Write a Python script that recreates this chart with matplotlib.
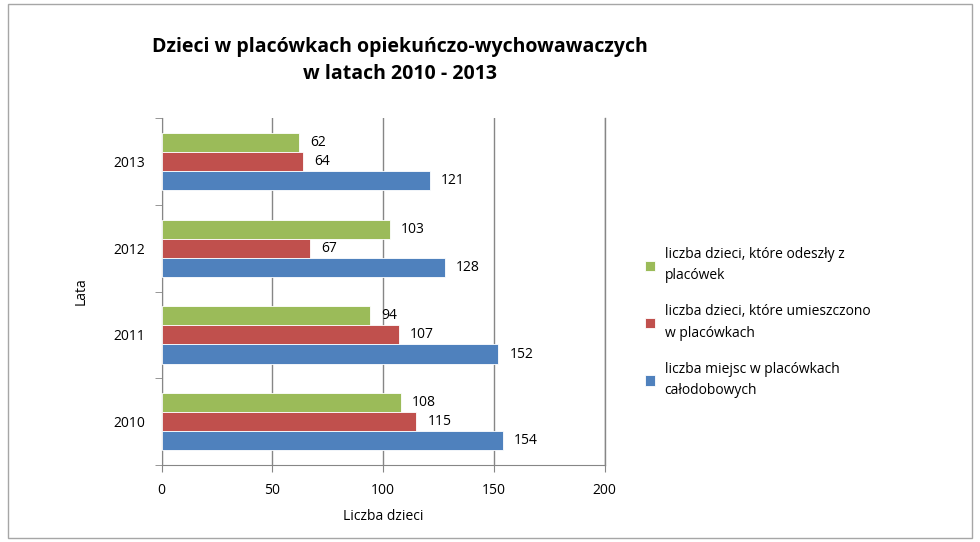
import numpy as np
import matplotlib.pyplot as plt
from matplotlib.patches import Rectangle

plt.rcParams['font.family'] = ['Open Sans', 'DejaVu Sans']

years = ['2010', '2011', '2012', '2013']
odeszly = [108, 94, 103, 62]
umieszczono = [115, 107, 67, 64]
miejsca = [154, 152, 128, 121]
series_names = ['liczba dzieci, które odeszły z\nplacówek',
                'liczba dzieci, które umieszczono\nw placówkach',
                'liczba miejsc w placówkach\ncałodobowych']
colors = ['#9BBB59', '#C0504D', '#4F81BD']

fig = plt.figure(figsize=(9.8, 5.42), dpi=100)
fig.patches.append(Rectangle((0.008, 0.008), 0.984, 0.984, transform=fig.transFigure,
                             fill=False, edgecolor='#A6A6A6', linewidth=1))
ax = fig.add_axes([0.165, 0.142, 0.452, 0.64])

y = np.arange(len(years))
h = 0.22
handles = []
for k, (vals, c) in enumerate(zip([odeszly, umieszczono, miejsca], colors)):
    pos = y + (1 - k) * h
    bars = ax.barh(pos, vals, height=h, color=c, edgecolor='white', linewidth=0.6, zorder=3)
    handles.append(bars)
    for p, v in zip(pos, vals):
        ax.text(v + 5, p, str(v), va='center', ha='left', fontsize=10, zorder=4)

ax.set_xlim(0, 200)
ax.set_ylim(-0.5, 3.5)
ax.set_xticks([0, 50, 100, 150, 200])
ax.set_yticks(y)
ax.set_yticklabels(years, fontsize=10)
ax.set_yticks(np.arange(-0.5, 4, 1), minor=True)
ax.tick_params(axis='y', which='major', length=0, pad=12)
ax.tick_params(axis='y', which='minor', length=5, color='#868686')
ax.tick_params(axis='x', length=5, color='#868686', labelsize=10, pad=8)
ax.grid(axis='x', color='#868686', linewidth=1, zorder=0)
ax.axvline(200, color='#868686', linewidth=1, zorder=0, clip_on=False)
for s in ['top', 'right']:
    ax.spines[s].set_visible(False)
for s in ['left', 'bottom']:
    ax.spines[s].set_color('#868686')

ax.set_xlabel('Liczba dzieci', fontsize=10, labelpad=8)
ax.set_ylabel('Lata', fontsize=10, labelpad=18)
fig.text(0.408, 0.888, 'Dzieci w placówkach opiekuńczo-wychowawaczych\nw latach 2010 - 2013',
         ha='center', va='center', fontsize=14, fontweight='bold', linespacing=1.5)

leg = fig.legend(handles, series_names, loc='center left', bbox_to_anchor=(0.645, 0.405),
                 frameon=False, fontsize=10, handlelength=0.75, handleheight=0.75,
                 labelspacing=1.5, handletextpad=0.7)
for t in leg.get_texts():
    t.set_linespacing(1.6)

fig.savefig('out.png', dpi=100)
